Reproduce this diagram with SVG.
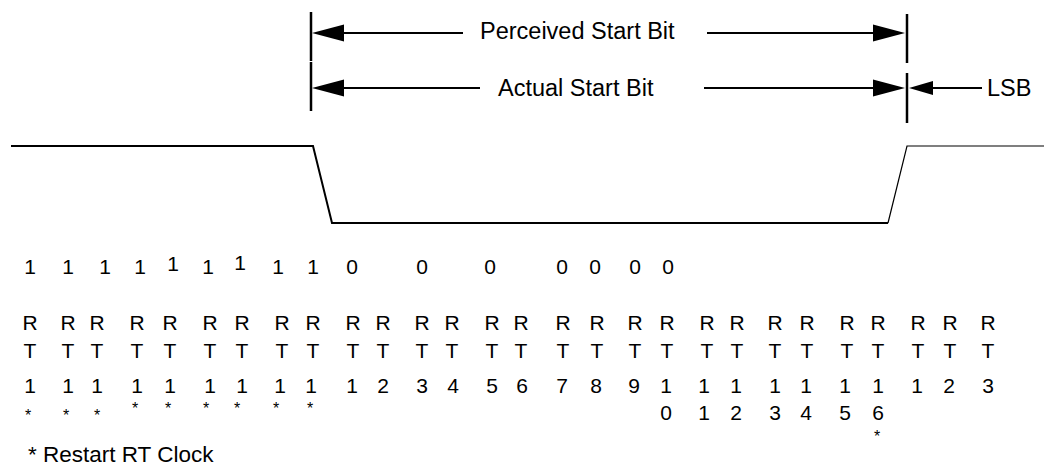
<svg xmlns="http://www.w3.org/2000/svg" width="1044" height="467" viewBox="0 0 1044 467">
<style>
text{font-family:"Liberation Sans",Arial,sans-serif;fill:#000}
.lbl{font-size:23.5px}
.leg{font-size:22.5px}
.d{font-size:21px;text-anchor:middle}
.s{font-size:16px;text-anchor:middle}
.ln{stroke:#000;stroke-width:2;fill:none}
.tk{stroke:#000;stroke-width:2.5;fill:none}
.wv{stroke:#000;stroke-width:2;fill:none}
</style>
<defs>
<path id="ahL" d="M0,0 L32,-8.5 L32,8.5 Z" fill="#000"/>
<path id="ahR" d="M0,0 L-32,-8.5 L-32,8.5 Z" fill="#000"/>
</defs>
<rect width="1044" height="467" fill="#fff"/>
<g id="connectors">
<line class="tk" x1="311" y1="12" x2="311" y2="61"/>
<line class="tk" x1="311" y1="62" x2="311" y2="111"/>
<line class="tk" x1="907" y1="14" x2="907" y2="63"/>
<line class="tk" x1="907" y1="73" x2="907" y2="123"/>
<line class="ln" x1="330" y1="33" x2="463" y2="33"/>
<use href="#ahL" x="312" y="33"/>
<line class="ln" x1="707" y1="33" x2="885" y2="33"/>
<use href="#ahR" x="905" y="33"/>
<line class="ln" x1="330" y1="88" x2="480" y2="88"/>
<use href="#ahL" x="312" y="88"/>
<line class="ln" x1="704" y1="88" x2="885" y2="88"/>
<use href="#ahR" x="905" y="88"/>
<line class="ln" x1="920" y1="88" x2="982" y2="88"/>
<path d="M909,88 L933,81 L933,95 Z" fill="#000"/>
</g>
<g id="labels">
<text class="lbl" x="480" y="39">Perceived Start Bit</text>
<text class="lbl" x="498" y="96">Actual Start Bit</text>
<text class="lbl" x="987" y="96">LSB</text>
</g>
<g id="waveform">
<polyline class="wv" points="11,146 313,146 332,223 888,223"/>
<polyline points="888,223 907,146 1044,146" stroke="#000" stroke-width="1.2" fill="none"/>
</g>
<g id="bits">
<text class="d" x="30" y="274">1</text>
<text class="d" x="68" y="274">1</text>
<text class="d" x="105" y="274">1</text>
<text class="d" x="140" y="274">1</text>
<text class="d" x="173" y="271">1</text>
<text class="d" x="208" y="274">1</text>
<text class="d" x="240" y="270">1</text>
<text class="d" x="278" y="274">1</text>
<text class="d" x="313" y="274">1</text>
<text class="d" x="352" y="274">0</text>
<text class="d" x="422" y="274">0</text>
<text class="d" x="490" y="274">0</text>
<text class="d" x="562" y="274">0</text>
<text class="d" x="595" y="274">0</text>
<text class="d" x="635" y="274">0</text>
<text class="d" x="668" y="274">0</text>
</g>
<g id="rt-row-R">
<text class="d" x="30" y="330">R</text><text class="d" x="68" y="330">R</text><text class="d" x="97" y="330">R</text>
<text class="d" x="137" y="330">R</text><text class="d" x="170" y="330">R</text><text class="d" x="210" y="330">R</text>
<text class="d" x="242" y="330">R</text><text class="d" x="282" y="330">R</text><text class="d" x="313" y="330">R</text>
<text class="d" x="353" y="330">R</text><text class="d" x="383" y="330">R</text><text class="d" x="422" y="330">R</text>
<text class="d" x="452" y="330">R</text><text class="d" x="492" y="330">R</text><text class="d" x="521" y="330">R</text>
<text class="d" x="563" y="330">R</text><text class="d" x="597" y="330">R</text><text class="d" x="635" y="330">R</text>
<text class="d" x="667" y="330">R</text><text class="d" x="707" y="330">R</text><text class="d" x="737" y="330">R</text>
<text class="d" x="775" y="330">R</text><text class="d" x="807" y="330">R</text><text class="d" x="847" y="330">R</text>
<text class="d" x="878" y="330">R</text><text class="d" x="918" y="330">R</text><text class="d" x="950" y="330">R</text>
<text class="d" x="988" y="330">R</text>
</g>
<g id="rt-row-T">
<text class="d" x="30" y="358">T</text><text class="d" x="68" y="358">T</text><text class="d" x="97" y="358">T</text>
<text class="d" x="137" y="358">T</text><text class="d" x="170" y="358">T</text><text class="d" x="210" y="358">T</text>
<text class="d" x="242" y="358">T</text><text class="d" x="282" y="358">T</text><text class="d" x="313" y="358">T</text>
<text class="d" x="353" y="358">T</text><text class="d" x="383" y="358">T</text><text class="d" x="422" y="358">T</text>
<text class="d" x="452" y="358">T</text><text class="d" x="492" y="358">T</text><text class="d" x="521" y="358">T</text>
<text class="d" x="563" y="358">T</text><text class="d" x="597" y="358">T</text><text class="d" x="635" y="358">T</text>
<text class="d" x="667" y="358">T</text><text class="d" x="707" y="358">T</text><text class="d" x="737" y="358">T</text>
<text class="d" x="775" y="358">T</text><text class="d" x="807" y="358">T</text><text class="d" x="847" y="358">T</text>
<text class="d" x="878" y="358">T</text><text class="d" x="918" y="358">T</text><text class="d" x="950" y="358">T</text>
<text class="d" x="988" y="358">T</text>
</g>
<g id="rt-row-num">
<text class="d" x="30" y="393">1</text><text class="d" x="68" y="393">1</text><text class="d" x="97" y="393">1</text>
<text class="d" x="137" y="393">1</text><text class="d" x="170" y="393">1</text><text class="d" x="210" y="393">1</text>
<text class="d" x="242" y="393">1</text><text class="d" x="280" y="393">1</text><text class="d" x="311" y="393">1</text>
<text class="d" x="352" y="393">1</text><text class="d" x="383" y="393">2</text><text class="d" x="422" y="393">3</text>
<text class="d" x="453" y="393">4</text><text class="d" x="492" y="393">5</text><text class="d" x="522" y="393">6</text>
<text class="d" x="562" y="393">7</text><text class="d" x="596" y="393">8</text><text class="d" x="634" y="393">9</text>
<text class="d" x="666" y="393">1</text><text class="d" x="704" y="393">1</text><text class="d" x="736" y="393">1</text>
<text class="d" x="775" y="393">1</text><text class="d" x="806" y="393">1</text><text class="d" x="845" y="393">1</text>
<text class="d" x="878" y="393">1</text><text class="d" x="917" y="393">1</text><text class="d" x="949" y="393">2</text>
<text class="d" x="988" y="393">3</text>
<text class="d" x="666" y="420">0</text><text class="d" x="704" y="420">1</text><text class="d" x="736" y="420">2</text>
<text class="d" x="775" y="420">3</text><text class="d" x="806" y="420">4</text><text class="d" x="845" y="420">5</text>
<text class="d" x="878" y="420">6</text>
</g>
<g id="stars">
<text class="s" x="28" y="421">*</text><text class="s" x="66" y="421">*</text><text class="s" x="97" y="421">*</text>
<text class="s" x="135" y="414">*</text><text class="s" x="168" y="414">*</text><text class="s" x="206" y="414">*</text>
<text class="s" x="237" y="414">*</text><text class="s" x="276" y="414">*</text><text class="s" x="310" y="414">*</text>
<text class="s" x="877" y="442">*</text>
</g>
<g id="legend">
<text class="leg" x="28" y="462">* Restart RT Clock</text>
</g>
</svg>
